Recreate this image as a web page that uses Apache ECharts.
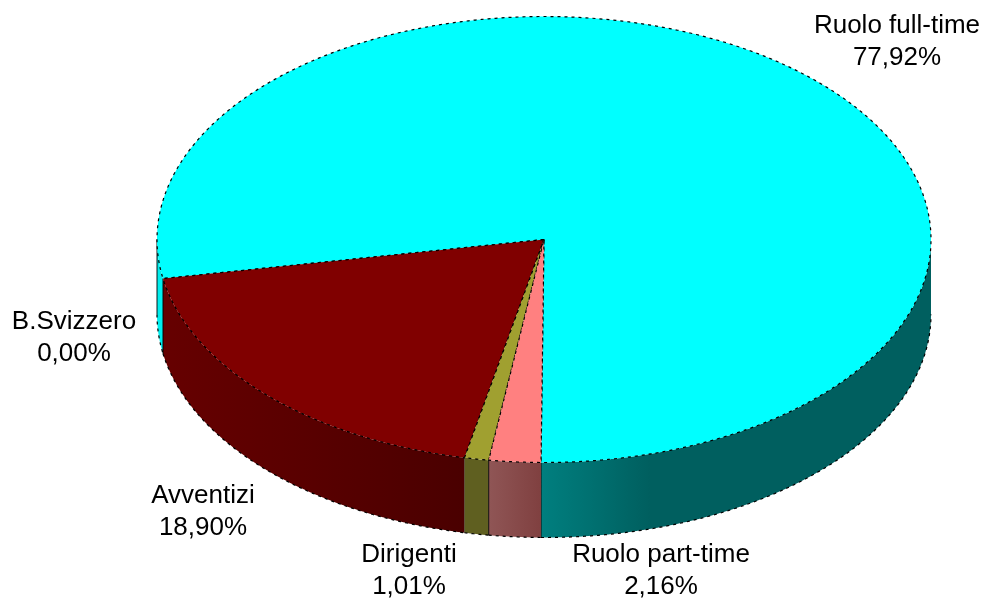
<!DOCTYPE html>
<html>
<head>
<meta charset="utf-8">
<title>Pie</title>
<script src="https://cdn.jsdelivr.net/npm/echarts@6/dist/echarts.min.js"></script>
<style>
html,body{margin:0;padding:0;background:#fff;}
#main{width:988px;height:599px;}
</style>
</head>
<body>
<div id="main"></div>
<script>
// slices in drawing order, counter-clockwise on screen from the bottom
var categories = ['Ruolo full-time', 'B.Svizzero', 'Avventizi', 'Dirigenti', 'Ruolo part-time'];
var percentages = [77.92, 0.00, 18.90, 1.01, 2.16];

var topColors = ['#00ffff', '#800000', '#800000', '#a0a030', '#ff8080'];

// ellipse geometry of the fake 3D pie
var cx = 544, cy = 239.5, rx = 387, ry = 223, depth = 75;
var startAngle = 90.44;

var labelPos = [[897, 42], [74, 338], [203, 512], [409, 571], [661, 571]];

var total = percentages.reduce(function (a, b) { return a + b; }, 0);
var spans = [];
var cursor = startAngle;
for (var i = 0; i < percentages.length; i++) {
    var sweep = percentages[i] / total * 360;
    spans.push([cursor - sweep, cursor]);
    cursor -= sweep;
}

function pt(deg, dy) {
    var r = deg * Math.PI / 180;
    return [cx + rx * Math.cos(r), cy + ry * Math.sin(r) + (dy || 0)];
}

function arc(a0, a1, dy) {
    var pts = [];
    var n = Math.max(2, Math.ceil(Math.abs(a1 - a0) * 2));
    for (var k = 0; k <= n; k++) {
        pts.push(pt(a0 + (a1 - a0) * k / n, dy));
    }
    return pts;
}

function grad(x0, x1, c0, c1) {
    return new echarts.graphic.LinearGradient(x0, 0, x1, 0, [
        {offset: 0, color: c0},
        {offset: 1, color: c1}
    ], true);
}

function sideFill(i, a1) {
    if (i == 0) {
        // the sliver on the far left stays bright
        return a1 <= -180 ? '#00eeee' : grad(541, 650, '#007f7f', '#005f5f');
    }
    if (i == 2) return grad(162, 466, '#660000', '#4a0000');
    if (i == 3) return '#5f5f20';
    return grad(490, 541, '#8f5555', '#804040');
}

// only the part of the rim that faces the viewer gets a wall
function frontPieces(a0, a1) {
    var res = [];
    var ranges = [[0, 180], [-360, -180]];
    for (var r = 0; r < ranges.length; r++) {
        var lo = Math.max(a0, ranges[r][0]);
        var hi = Math.min(a1, ranges[r][1]);
        if (hi > lo) res.push([lo, hi]);
    }
    return res;
}

var outline = {stroke: '#000', lineWidth: 1.2, lineDash: [3, 4]};

function renderSide(params) {
    var i = params.dataIndex;
    if (percentages[i] <= 0) return null;
    var children = [];
    frontPieces(spans[i][0], spans[i][1]).forEach(function (p) {
        var upper = arc(p[0], p[1], 0);
        var lower = arc(p[1], p[0], depth);
        children.push({
            type: 'polygon',
            shape: {points: upper.concat(lower)},
            style: {fill: sideFill(i, p[1]), stroke: null}
        });
        children.push({
            type: 'polyline',
            shape: {points: lower},
            style: {fill: null, stroke: outline.stroke, lineWidth: outline.lineWidth, lineDash: outline.lineDash}
        });
        children.push({
            type: 'polyline',
            shape: {points: [pt(p[1]), pt(p[1], depth)]},
            style: {fill: null, stroke: '#000', lineWidth: 1, opacity: i == 3 ? 0.25 : 0.9}
        });
    });
    return {type: 'group', children: children};
}

function renderTop(params) {
    var i = params.dataIndex;
    if (percentages[i] <= 0) return null;
    var pts = [[cx, cy]].concat(arc(spans[i][0], spans[i][1], 0));
    return {
        type: 'polygon',
        shape: {points: pts},
        style: {fill: topColors[i], stroke: outline.stroke, lineWidth: outline.lineWidth, lineDash: outline.lineDash}
    };
}

var labels = categories.map(function (name, i) {
    return {
        type: 'text',
        x: labelPos[i][0],
        y: labelPos[i][1],
        style: {
            text: name + '\n' + percentages[i].toFixed(2).replace('.', ',') + '%',
            align: 'center',
            verticalAlign: 'middle',
            fill: '#000',
            font: '26px "Liberation Sans", Arial, sans-serif',
            lineHeight: 32
        }
    };
});

var rows = categories.map(function (name, i) { return [i, percentages[i]]; });

var chart = echarts.init(document.getElementById('main'));
chart.setOption({
    animation: false,
    backgroundColor: '#fff',
    graphic: labels,
    series: [
        {type: 'custom', coordinateSystem: 'none', renderItem: renderSide, data: rows, silent: true, z: 1},
        {type: 'custom', coordinateSystem: 'none', renderItem: renderTop, data: rows, silent: true, z: 2}
    ]
});
</script>
</body>
</html>
